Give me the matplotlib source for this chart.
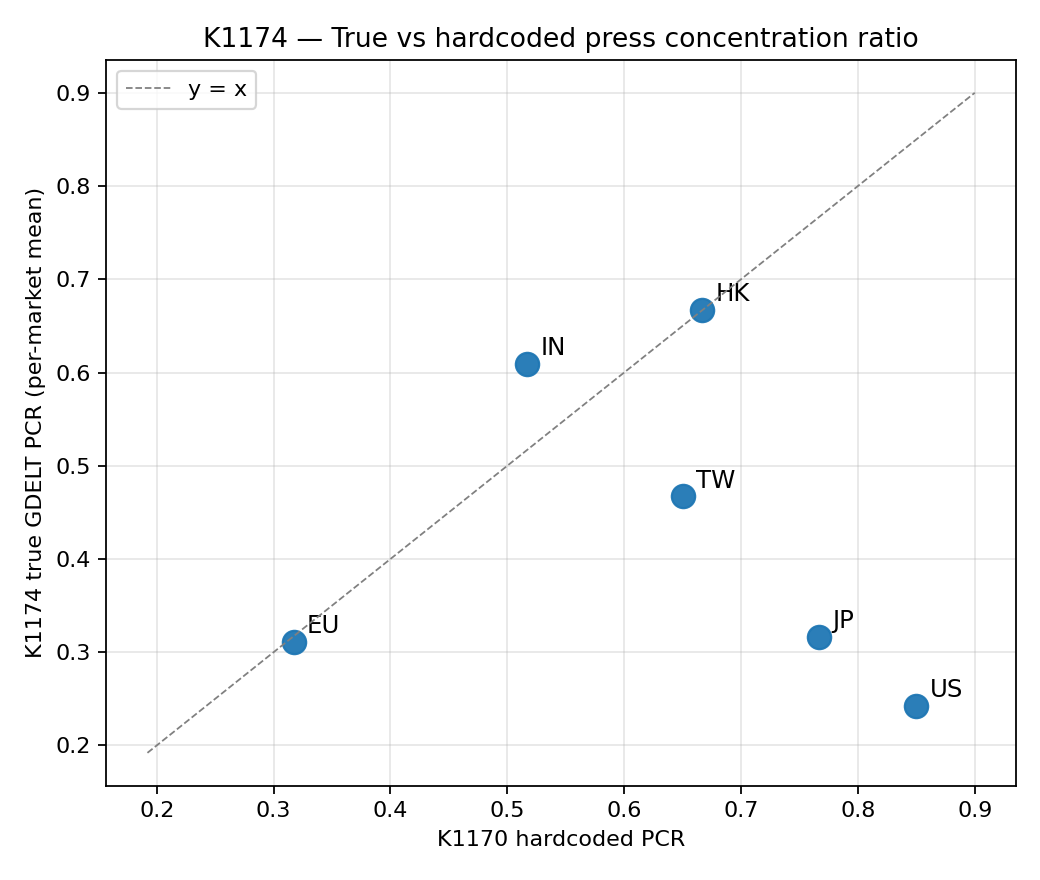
import numpy as np
import matplotlib
matplotlib.use("Agg")
import matplotlib.pyplot as plt

markets = ["EU", "IN", "HK", "TW", "JP", "US"]
hardcoded = [0.317, 0.517, 0.667, 0.650, 0.767, 0.850]
true_pcr = [0.311, 0.609, 0.667, 0.467, 0.316, 0.242]

fig, ax = plt.subplots(figsize=(6.5, 5.5), dpi=160)
ax.scatter(hardcoded, true_pcr, s=110, color="#1f77b4", alpha=0.95, zorder=2)
for m, x, y in zip(markets, hardcoded, true_pcr):
    ax.annotate(m, (x, y), xytext=(6, 4), textcoords="offset points", fontsize=11)

lo = min(min(hardcoded), min(true_pcr)) - 0.05
hi = max(max(hardcoded), max(true_pcr)) + 0.05
ax.plot([lo, hi], [lo, hi], "--", color="gray", lw=0.8, label="y = x", zorder=3)

ax.set_xlabel("K1170 hardcoded PCR")
ax.set_ylabel("K1174 true GDELT PCR (per-market mean)")
ax.set_title("K1174 — True vs hardcoded press concentration ratio")
ax.grid(alpha=0.3)
ax.legend(loc="upper left")
fig.subplots_adjust(left=0.102, right=0.977, top=0.932, bottom=0.107)
fig.savefig("out.png")
